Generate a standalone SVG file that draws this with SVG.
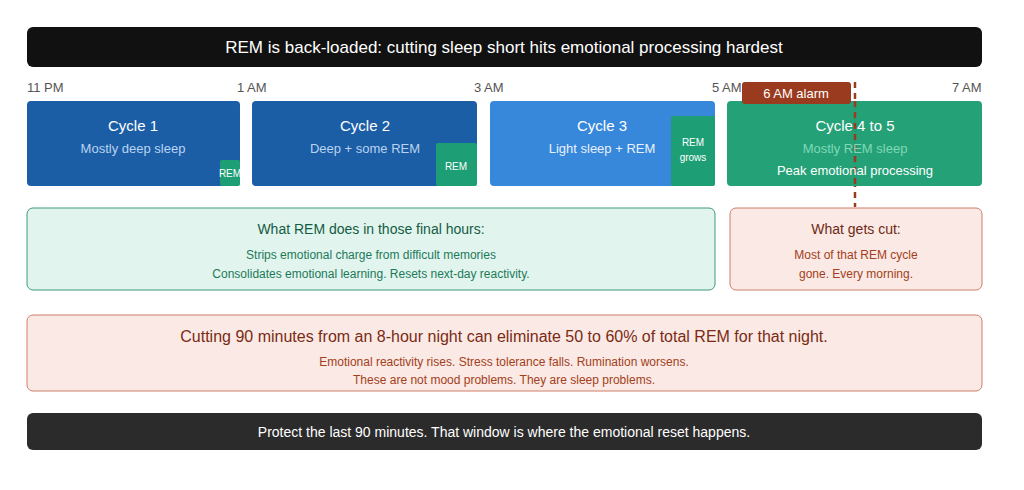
<svg xmlns="http://www.w3.org/2000/svg" width="1024" height="490" viewBox="0 0 1024 490">
<style>
text{font-family:"Liberation Sans",Arial,sans-serif;text-anchor:middle}
.time{fill:#555;font-size:13px;text-anchor:start}
.ct{fill:#fff;font-size:15px}
.cs{fill:#b9d3f0;font-size:13px}
.rem{fill:#1e9e74}
.rt{fill:#fff;font-size:10px}
</style>
<rect width="1024" height="490" fill="#fff"/>
<g id="title"><rect x="27" y="27" width="955" height="40" rx="6" fill="#111"/><text x="504" y="53" fill="#fff" font-size="17">REM is back-loaded: cutting sleep short hits emotional processing hardest</text></g>
<g id="times">
<text class="time" x="27" y="92">11 PM</text><text class="time" x="237" y="92">1 AM</text><text class="time" x="474" y="92">3 AM</text><text class="time" x="712" y="92">5 AM</text><text class="time" x="952" y="92">7 AM</text></g>
<g id="cycle1"><rect x="27" y="101" width="213" height="85" rx="4" fill="#1b5ea6"/><rect class="rem" x="220" y="160" width="20" height="26" rx="2"/><text class="ct" x="133" y="131">Cycle 1</text><text class="cs" x="133" y="153">Mostly deep sleep</text><text class="rt" x="230" y="177">REM</text></g>
<g id="cycle2"><rect x="252" y="101" width="225" height="85" rx="4" fill="#1b5ea6"/><rect class="rem" x="436" y="143" width="41" height="43" rx="2"/><text class="ct" x="365" y="131">Cycle 2</text><text class="cs" x="365" y="153">Deep + some REM</text><text class="rt" x="456" y="170">REM</text></g>
<g id="cycle3"><rect x="490" y="101" width="225" height="85" rx="4" fill="#3787db"/><rect class="rem" x="671" y="116" width="44" height="70" rx="2"/><text class="ct" x="602" y="131">Cycle 3</text><text x="602" y="153" fill="#e8f1fb" font-size="13">Light sleep + REM</text><text class="rt" x="693" y="146">REM</text><text class="rt" x="693" y="161">grows</text></g>
<g id="connectors"><line x1="855" y1="82" x2="855" y2="207" stroke="#9a3a1e" stroke-width="2.5" stroke-dasharray="6,5"/></g>
<g id="cycle4"><rect x="727" y="101" width="255" height="85" rx="4" fill="#1e9e74" fill-opacity="0.97"/><line x1="855" y1="101" x2="855" y2="186" stroke="#9a3a1e" stroke-width="2.5" stroke-dasharray="6,5"/><text class="ct" x="855" y="131">Cycle 4 to 5</text><text x="855" y="153" fill="#7fd8b6" font-size="13">Mostly REM sleep</text><text x="855" y="175" fill="#fff" font-size="13">Peak emotional processing</text></g>
<g id="alarm"><rect x="742" y="82" width="109" height="22" rx="3" fill="#9a3a1e"/><text x="796" y="98" fill="#fff" font-size="13">6 AM alarm</text></g>
<g id="does"><rect x="27" y="208" width="688" height="82" rx="6" fill="#e2f4ee" stroke="#3b9a7a"/><text x="371" y="234" fill="#135c44" font-size="14">What REM does in those final hours:</text><text x="371" y="259" fill="#1c7a59" font-size="12">Strips emotional charge from difficult memories</text><text x="371" y="278" fill="#1c7a59" font-size="12">Consolidates emotional learning. Resets next-day reactivity.</text></g>
<g id="cut"><rect x="730" y="208" width="252" height="82" rx="6" fill="#fae9e4" stroke="#cf7f69"/><text x="856" y="234" fill="#6e2a16" font-size="14">What gets cut:</text><text x="856" y="259" fill="#a33e20" font-size="12">Most of that REM cycle</text><text x="856" y="278" fill="#a33e20" font-size="12">gone. Every morning.</text></g>
<g id="stat"><rect x="27" y="315" width="955" height="76" rx="6" fill="#fae9e4" stroke="#cf7f69"/><text x="504" y="342" fill="#7a2b14" font-size="16">Cutting 90 minutes from an 8-hour night can eliminate 50 to 60% of total REM for that night.</text><text x="504" y="366" fill="#a33e20" font-size="12">Emotional reactivity rises. Stress tolerance falls. Rumination worsens.</text><text x="504" y="384" fill="#a33e20" font-size="12">These are not mood problems. They are sleep problems.</text></g>
<g id="footer"><rect x="27" y="413" width="955" height="37" rx="6" fill="#2b2b2b"/><text x="504" y="437" fill="#fff" font-size="14">Protect the last 90 minutes. That window is where the emotional reset happens.</text></g>
</svg>
